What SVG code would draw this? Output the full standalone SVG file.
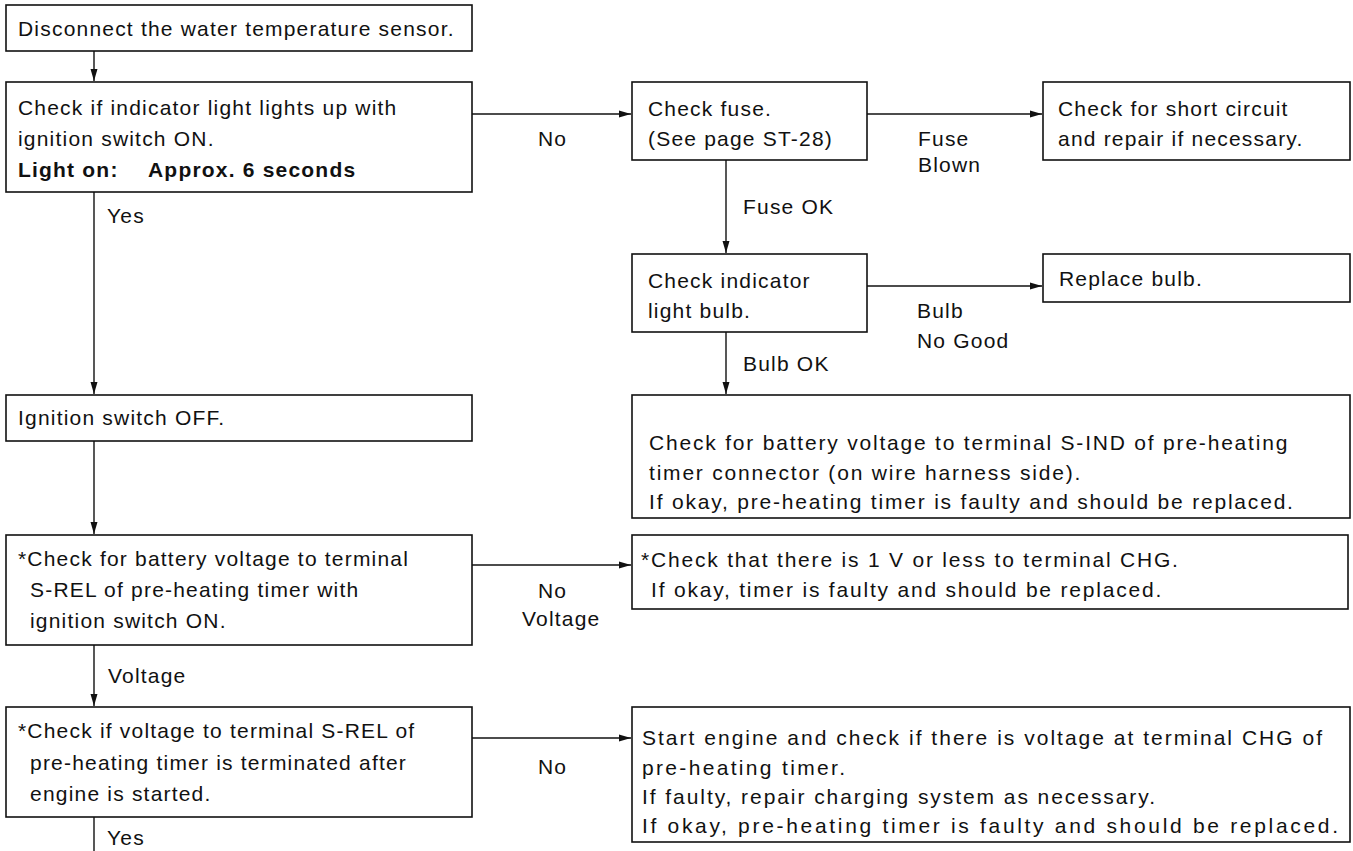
<svg xmlns="http://www.w3.org/2000/svg" width="1353" height="851" viewBox="0 0 1353 851">
<style>
.t{font-family:"Liberation Sans",Arial,sans-serif;font-size:21px;fill:#111;letter-spacing:1.2px}
.b{font-weight:bold}
.w{letter-spacing:1.8px}
.c{letter-spacing:0}
.box{fill:#fff;stroke:#111;stroke-width:1.6}
.ln{fill:none;stroke:#111;stroke-width:1.4}
</style>
<defs>
<marker id="ah" markerUnits="userSpaceOnUse" markerWidth="13" markerHeight="8" refX="12" refY="4" orient="auto">
<path d="M0,0.5 L12,4 L0,7.5 z" fill="#111"/>
</marker>
</defs>
<rect width="1353" height="851" fill="#fff"/>
<g id="connectors">
<line class="ln" x1="94" y1="51" x2="94" y2="81" marker-end="url(#ah)"/>
<line class="ln" x1="94" y1="192" x2="94" y2="394" marker-end="url(#ah)"/>
<line class="ln" x1="472" y1="114" x2="631" y2="114" marker-end="url(#ah)"/>
<line class="ln" x1="867" y1="114" x2="1042" y2="114" marker-end="url(#ah)"/>
<line class="ln" x1="726" y1="160" x2="726" y2="253" marker-end="url(#ah)"/>
<line class="ln" x1="867" y1="286" x2="1042" y2="286" marker-end="url(#ah)"/>
<line class="ln" x1="726" y1="332" x2="726" y2="394" marker-end="url(#ah)"/>
<line class="ln" x1="94" y1="441" x2="94" y2="534" marker-end="url(#ah)"/>
<line class="ln" x1="472" y1="565" x2="631" y2="565" marker-end="url(#ah)"/>
<line class="ln" x1="94" y1="645" x2="94" y2="706" marker-end="url(#ah)"/>
<line class="ln" x1="472" y1="738" x2="631" y2="738" marker-end="url(#ah)"/>
<line class="ln" x1="94" y1="817" x2="94" y2="851"/>
<text class="t" x="107" y="223">Yes</text>
<text class="t" x="538" y="146">No</text>
<text class="t" x="743" y="214">Fuse OK</text>
<text class="t" x="918" y="146">Fuse</text>
<text class="t" x="918" y="172">Blown</text>
<text class="t" x="917" y="318">Bulb</text>
<text class="t" x="917" y="348">No Good</text>
<text class="t" x="743" y="371">Bulb OK</text>
<text class="t" x="538" y="598">No</text>
<text class="t" x="522" y="626">Voltage</text>
<text class="t" x="108" y="683">Voltage</text>
<text class="t" x="538" y="774">No</text>
<text class="t" x="107" y="845">Yes</text>
</g>
<g id="n1">
<rect class="box" x="6" y="5" width="466" height="46"/>
<text class="t" x="18" y="36">Disconnect the water temperature sensor.</text>
</g>
<g id="n2">
<rect class="box" x="6" y="82" width="466" height="110"/>
<text class="t" x="18" y="115">Check if indicator light lights up with</text>
<text class="t" x="18" y="146">ignition switch ON.</text>
<text class="t b" x="18" y="177">Light on:</text>
<text class="t b" x="148" y="177">Approx. 6 seconds</text>
</g>
<g id="n3">
<rect class="box" x="632" y="82" width="235" height="78"/>
<text class="t" x="648" y="116">Check fuse.</text>
<text class="t" x="648" y="146">(See page ST-28)</text>
</g>
<g id="n4">
<rect class="box" x="1043" y="82" width="307" height="78"/>
<text class="t" x="1058" y="116">Check for short circuit</text>
<text class="t" x="1058" y="146">and repair if necessary.</text>
</g>
<g id="n5">
<rect class="box" x="632" y="254" width="235" height="78"/>
<text class="t" x="648" y="288">Check indicator</text>
<text class="t" x="648" y="318">light bulb.</text>
</g>
<g id="n6">
<rect class="box" x="1043" y="254" width="307" height="48"/>
<text class="t" x="1059" y="286">Replace bulb.</text>
</g>
<g id="n7">
<rect class="box" x="6" y="395" width="466" height="46"/>
<text class="t" x="18" y="425">Ignition switch OFF.</text>
</g>
<g id="n8">
<rect class="box" x="632" y="395" width="718" height="123"/>
<text class="t w" x="649" y="450">Check for battery voltage to terminal S-IND of pre-heating</text>
<text class="t w" x="649" y="480">timer connector (on wire harness side).</text>
<text class="t w" x="649" y="509">If okay, pre-heating timer is faulty and should be replaced.</text>
</g>
<g id="n9">
<rect class="box" x="6" y="535" width="466" height="110"/>
<text class="t" x="18" y="566">*Check for battery voltage to terminal</text>
<text class="t" x="30" y="597">S-REL of pre-heating timer with</text>
<text class="t" x="30" y="628">ignition switch ON.</text>
</g>
<g id="n10">
<rect class="box" x="632" y="535" width="716" height="74"/>
<text class="t w" x="641" y="567">*Check that there is 1 V or less to terminal CHG.</text>
<text class="t w" x="651" y="597">If okay, timer is faulty and should be replaced.</text>
</g>
<g id="n11">
<rect class="box" x="6" y="707" width="466" height="110"/>
<text class="t" x="18" y="738">*Check if voltage to terminal S-REL of</text>
<text class="t" x="30" y="770">pre-heating timer is terminated after</text>
<text class="t" x="30" y="801">engine is started.</text>
</g>
<g id="n12">
<rect class="box" x="632" y="707" width="718" height="135"/>
<text class="t c" x="642" y="745" textLength="680">Start engine and check if there is voltage at terminal CHG of</text>
<text class="t c" x="642" y="775" textLength="203">pre-heating timer.</text>
<text class="t c" x="642" y="804" textLength="513">If faulty, repair charging system as necessary.</text>
<text class="t c" x="642" y="833" textLength="696">If okay, pre-heating timer is faulty and should be replaced.</text>
</g>
</svg>
